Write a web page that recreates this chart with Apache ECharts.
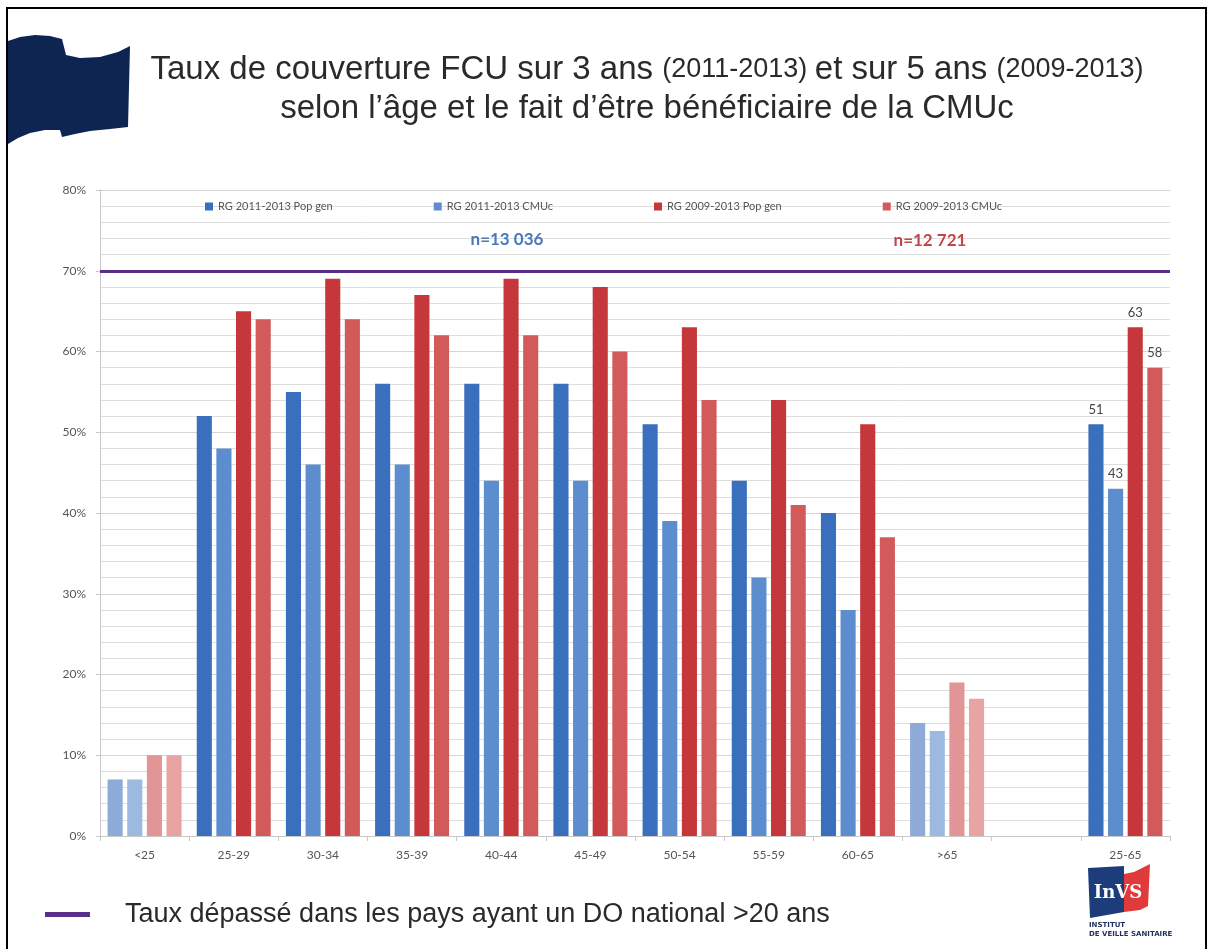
<!DOCTYPE html>
<html>
<head>
<meta charset="utf-8">
<script src="https://cdn.jsdelivr.net/npm/echarts@6/dist/echarts.min.js"></script>
<style>html,body{margin:0;padding:0;background:#fff;}#c{width:1208px;height:949px;}</style>
</head>
<body>
<div id="c"></div>
<script>
// ---- data ----
const categories = ['<25','25-29','30-34','35-39','40-44','45-49','50-54','55-59','60-65','>65','','25-65'];
const seriesNames = ['RG 2011-2013 Pop gen','RG 2011-2013 CMUc','RG 2009-2013 Pop gen','RG 2009-2013 CMUc'];
const popGen1113 = [7, 52, 55, 56, 56, 56, 51, 44, 40, 14, null, 51];
const cmuc1113   = [7, 48, 46, 46, 44, 44, 39, 32, 28, 13, null, 43];
const popGen0913 = [10, 65, 69, 67, 69, 68, 63, 54, 51, 19, null, 63];
const cmuc0913   = [10, 64, 64, 62, 62, 60, 54, 41, 37, 17, null, 58];
const fadedCategories = ['<25','>65'];
const labelledCategory = '25-65';
const thresholdValue = 70;
const yTicks = [0,10,20,30,40,50,60,70,80];
const nTexts = ['n=13 036','n=12 721'];
const thresholdLegend = 'Taux dépassé dans les pays ayant un DO national >20 ans';

// ---- styles ----
const baseColors  = ['#3a6fbd','#5b8dcf','#c5373a','#d35a5b'];
const fadedColors = ['#8eabd8','#9cb9e0','#e29596','#e8a3a3'];

function buildData(values, s){
  return values.map((v,i)=>{
    const item = {value: v};
    if (fadedCategories.includes(categories[i])) item.itemStyle = {color: fadedColors[s]};
    if (categories[i] === labelledCategory) item.label = {show: true};
    return item;
  });
}
const allValues = [popGen1113, cmuc1113, popGen0913, cmuc0913];

const series = allValues.map((vals, s) => {
  const o = {
    name: seriesNames[s],
    type: 'bar',
    data: buildData(vals, s),
    itemStyle: {color: baseColors[s]},
    barGap: '30%',
    barCategoryGap: '17%',
    label: {show: false, position: 'top', distance: 8, color: '#444', fontSize: 13, fontFamily: 'Lato, sans-serif'}
  };
  if (s === 0) {
    o.markLine = {
      silent: true, symbol: ['none','none'], label: {show: false},
      lineStyle: {color: '#5a2d8c', width: 3, type: 'solid'},
      data: [{yAxis: thresholdValue}]
    };
  }
  return o;
});

const chart = echarts.init(document.getElementById('c'));
chart.setOption({
  backgroundColor: '#fff',
  animation: false,
  title: {
    left: 642, top: 45, textAlign: 'center',
    text: '{a|Taux de couverture FCU sur 3 ans }{b|(2011-2013) }{a|et sur 5 ans }{b|(2009-2013)}\n{a|selon l’âge et le fait d’être bénéficiaire de la CMUc}',
    textStyle: {
      lineHeight: 39, fontWeight: 'normal',
      rich: {
        a: {fontFamily: '"Liberation Sans", Arial, sans-serif', fontSize: 33, color: '#2a2a2a', lineHeight: 39, fontWeight: 'normal'},
        b: {fontFamily: '"Liberation Sans", Arial, sans-serif', fontSize: 27, color: '#2a2a2a', lineHeight: 39, fontWeight: 'normal'}
      }
    }
  },
  legend: {
    top: 196, left: 200, itemWidth: 8, itemHeight: 8, icon: 'rect', itemGap: 101,
    textStyle: {color: '#555', fontSize: 11, fontFamily: 'Lato, sans-serif'},
    data: seriesNames
  },
  grid: {left: 100, right: 38, top: 190, bottom: 113, containLabel: false},
  xAxis: {
    type: 'category', data: categories,
    axisLine: {lineStyle: {color: '#c8c8c8'}},
    axisTick: {show: true, alignWithLabel: false, interval: 0, length: 5, lineStyle: {color: '#c8c8c8'}},
    axisLabel: {color: '#555', fontSize: 12, margin: 13, interval: 0, fontFamily: 'Lato, sans-serif'}
  },
  yAxis: {
    type: 'value', min: yTicks[0], max: yTicks[yTicks.length-1], interval: 10,
    axisLine: {show: true, lineStyle: {color: '#c8c8c8'}},
    axisTick: {show: true, length: 4, lineStyle: {color: '#c8c8c8'}},
    axisLabel: {formatter: '{value}%', color: '#555', fontSize: 12, margin: 14, fontFamily: 'Lato, sans-serif'},
    splitLine: {lineStyle: {color: '#d6d6d6'}},
    minorTick: {show: false, splitNumber: 5},
    minorSplitLine: {show: true, lineStyle: {color: '#dedede'}}
  },
  series: series,
  graphic: [
    {type: 'rect', shape: {x: 7, y: 8, width: 1199, height: 960}, style: {fill: 'none', stroke: '#000', lineWidth: 2}, z: 100},
    {type: 'polygon', shape: {points: [[8,41],[20,37],[35,35],[50,36],[62,39],[66,55],[80,58],[100,57],[118,52],[130,46],[128,127],[110,129],[90,131],[75,134],[62,137],[60,130],[45,130],[30,133],[18,138],[8,144]]},
     style: {fill: '#0e2552'}},
    {type: 'text', x: 507, y: 240, z: 50, style: {text: nTexts[0], fill: '#4a78b8', font: 'bold 17px Lato, sans-serif', align: 'center', verticalAlign: 'middle'}},
    {type: 'text', x: 930, y: 241, z: 50, style: {text: nTexts[1], fill: '#c44545', font: 'bold 17px Lato, sans-serif', align: 'center', verticalAlign: 'middle'}},
    {type: 'rect', shape: {x: 45, y: 912, width: 45, height: 5}, style: {fill: '#5a2d8c'}},
    {type: 'text', x: 125, y: 915, style: {text: thresholdLegend, fill: '#2a2a2a', font: '27px "Liberation Sans", Arial, sans-serif', verticalAlign: 'middle'}},
    // logo
    {type: 'polygon', shape: {points: [[1088,868],[1124,866],[1124,912],[1090,918]]}, style: {fill: '#1d3c7a'}},
    {type: 'polygon', shape: {points: [[1124,874],[1134,872],[1142,868],[1150,864],[1148,906],[1140,910],[1132,911],[1124,912]]}, style: {fill: '#e03a3a'}},
    {type: 'text', x: 1118, y: 893, style: {text: 'InVS', fill: '#fff', font: 'bold 18px "DejaVu Serif", serif', align: 'center', verticalAlign: 'middle'}},
    {type: 'text', x: 1089, y: 925, style: {text: 'INSTITUT', fill: '#1d2f5c', font: 'bold 7px "DejaVu Sans", sans-serif', verticalAlign: 'middle'}},
    {type: 'text', x: 1089, y: 934, style: {text: 'DE VEILLE SANITAIRE', fill: '#1d2f5c', font: 'bold 7px "DejaVu Sans", sans-serif', verticalAlign: 'middle'}}
  ]
});
</script>
</body>
</html>
